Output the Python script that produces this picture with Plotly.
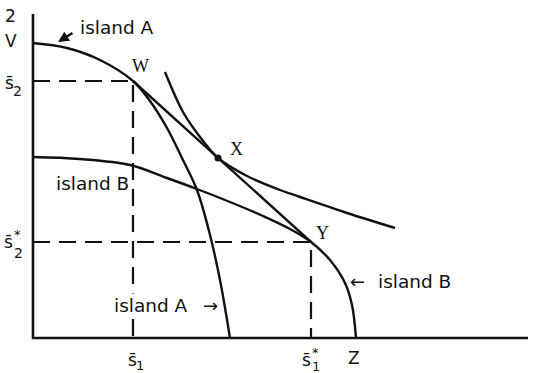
import plotly.graph_objects as go

# ---- data (diagram units: origin at the axes' corner) ----
axis_x_end = 495
axis_y_top = 324

island_a_x = [0, 34, 67, 100, 117, 134, 149, 164, 177, 187, 197]
island_a_y = [295, 290, 278, 257, 237, 210, 180, 148, 103, 58, 0]

island_b_x = [0, 47, 97, 134, 164, 197, 230, 257, 278, 297, 312, 319, 323]
island_b_y = [181, 179, 173, 160, 149, 136, 122, 109, 96, 78, 55, 33, 0]

indiff_x = [132, 150, 167, 185, 214, 247, 267, 314, 362]
indiff_y = [266, 226, 201, 180, 162, 148, 141, 125, 110]

point_w = (100, 257)
point_x = (185, 180)
point_y = (278, 96)

s1_value = point_w[0]
s2_value = point_w[1]
s1_star = point_y[0]
s2_star = point_y[1]
z_value = 323

fig = go.Figure()
black = "#111"

# axes
fig.add_trace(go.Scatter(x=[0, 0, axis_x_end], y=[axis_y_top, 0, 0], mode="lines",
                         line=dict(color=black, width=2.6), hoverinfo="skip"))
# dashed guides
dash = "17px,9px"
fig.add_trace(go.Scatter(x=[0, s1_value, s1_value], y=[s2_value, s2_value, 0], mode="lines",
                         line=dict(color=black, width=2.2, dash=dash), hoverinfo="skip"))
fig.add_trace(go.Scatter(x=[0, s1_star, s1_star], y=[s2_star, s2_star, 0], mode="lines",
                         line=dict(color=black, width=2.2, dash=dash), hoverinfo="skip"))
# curves
fig.add_trace(go.Scatter(x=island_a_x, y=island_a_y, mode="lines",
                         line=dict(color=black, width=2.4, shape="spline", smoothing=1.0)))
fig.add_trace(go.Scatter(x=island_b_x, y=island_b_y, mode="lines",
                         line=dict(color=black, width=2.4, shape="spline", smoothing=1.0)))
fig.add_trace(go.Scatter(x=indiff_x, y=indiff_y, mode="lines",
                         line=dict(color=black, width=2.4, shape="spline", smoothing=1.0)))
# price line W-Y
fig.add_trace(go.Scatter(x=[point_w[0], point_y[0]], y=[point_w[1], point_y[1]], mode="lines",
                         line=dict(color=black, width=2.4)))
# point X
fig.add_trace(go.Scatter(x=[point_x[0]], y=[point_x[1]], mode="markers",
                         marker=dict(color=black, size=7)))

F = "DejaVu Sans"
SF = "Liberation Serif"


def txt(x, y, s, size=17, family=F, bg=None, pad=1, **kw):
    fig.add_annotation(x=x, y=y, text=s, showarrow=False, xref="x", yref="y",
                       font=dict(family=family, size=size, color=black),
                       bgcolor=bg, borderpad=pad, **kw)


txt(-23, 322, "2")
txt(-22, 297, "V")
# s-bar 2
txt(-24, 255, "s\u0304")
txt(-16, 247, "2", size=14)
# s-bar 2 star
txt(-25, 96, "s\u0304")
txt(-16, 104, "*", size=13, pad=0)
txt(-15, 85, "2", size=14, pad=0)
# s-bar 1
txt(s1_value - 1, -22, "s\u0304")
txt(s1_value + 7, -27, "1", size=13)
# s-bar 1 star
txt(s1_star - 5, -22, "s\u0304", pad=0)
txt(s1_star + 4, -14, "*", size=13, pad=0)
txt(s1_star + 5, -28, "1", size=13, pad=0)
txt(z_value - 2, -20, "Z")

txt(point_w[0] + 7, 272, "W", size=18, family=SF)
txt(point_x[0] + 18, 189, "X", size=18, family=SF)
txt(point_y[0] + 11, 105, "Y", size=18, family=SF)

txt(84, 311, "island A", size=18.5)
fig.add_annotation(x=25, y=296, ax=16, ay=-10, xref="x", yref="y", text="",
                   showarrow=True, arrowhead=2, arrowsize=0.9, arrowwidth=2.4,
                   arrowcolor=black)
txt(59, 155, "island B", size=18.5, bg="white")
txt(118, 33, "island A", size=18.5, bg="white")
txt(177, 33, "\u2192", size=18)
txt(381, 57, "island B", size=18.5)
txt(324, 57, "\u2190", size=18)

fig.update_layout(width=546, height=373, margin=dict(l=0, r=0, t=0, b=0),
                  paper_bgcolor="white", plot_bgcolor="white", showlegend=False,
                  xaxis=dict(range=[-33, 513], visible=False, fixedrange=True),
                  yaxis=dict(range=[-35, 338], visible=False, fixedrange=True))

fig.write_html("out.html", config={"displayModeBar": False},
               post_script="document.body.style.margin='0';document.body.style.overflow='hidden';")
